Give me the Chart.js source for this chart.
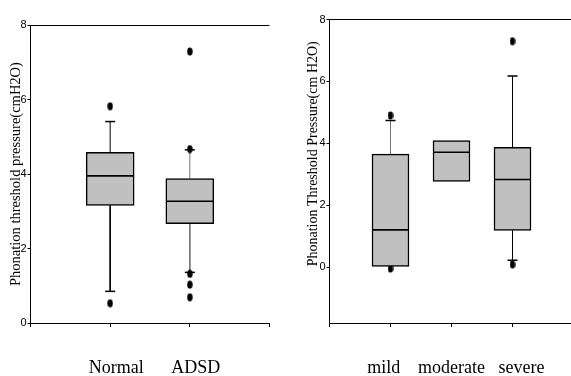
<!DOCTYPE html>
<html><head><meta charset="utf-8">
<script src="https://cdn.jsdelivr.net/npm/chart.js@4/dist/chart.umd.min.js"></script>
<style>
html,body{margin:0;padding:0;background:#fff;overflow:hidden;width:571px;height:376px;position:relative;}
#c1{position:absolute;left:0;top:0;}
#c2{position:absolute;left:290px;top:0;}
</style></head><body>
<canvas id="c1" width="300" height="376"></canvas>
<canvas id="c2" width="314" height="376"></canvas>
<script>
// ---- Left panel data ----
const groupsA = ['Normal', 'ADSD'];
const lowA  = [0.85, 1.36];
const q1A   = [3.16, 2.67];
const medA  = [3.95, 3.27];
const q3A   = [4.58, 3.88];
const highA = [5.41, 4.65];
const outA  = [[5.82, 0.53], [7.29, 4.67, 1.32, 1.03, 0.69]];
const yTicksA = [0, 2, 4, 6, 8];

// ---- Right panel data ----
const groupsB = ['mild', 'moderate', 'severe'];
const lowB  = [null, null, 0.22];
const q1B   = [0.00, 2.77, 1.18];
const medB  = [1.20, 3.71, 2.83];
const q3B   = [3.65, 4.09, 3.87];
const highB = [4.74, null, 6.18];
const outB  = [[4.90, -0.05], [], [7.30, 0.08]];
const yTicksB = [0, 2, 4, 6, 8];

// outlier marker (slightly tall ellipse)
function ellipseMarker() {
  const c = document.createElement('canvas');
  c.width = 6; c.height = 9;
  const g = c.getContext('2d');
  g.fillStyle = '#000';
  g.beginPath();
  g.ellipse(3, 4.5, 2.7, 4.0, 0, 0, Math.PI * 2);
  g.fill();
  return c;
}
const marker = ellipseMarker();

function buildChart(id, cfg) {
  const {groups, low, q1, med, q3, high, outs, yTicks, yMin, yMax,
         boxW, capR, title, titleSize, titlePad, yWidth, padTop, tickPad,
         labelOffset, labelShift, whiskerColors} = cfg;
  const labels = ['', ...groups, ''];
  const pad = arr => [null, ...arr, null];

  const datasets = [];
  // medians (drawn on top)
  datasets.push({
    type: 'line', showLine: false, order: -1,
    data: groups.map((g, i) => ({x: g, y: med[i]})),
    pointStyle: 'line', pointRadius: boxW / 2 - 0.5,
    pointBorderColor: '#000', pointBorderWidth: 1.6, pointBackgroundColor: '#000'
  });
  // boxes
  datasets.push({
    type: 'bar', order: 0, grouped: false,
    data: pad(groups.map((g, i) => [q1[i], q3[i]])),
    backgroundColor: '#c0c0c0', borderColor: '#000', borderWidth: 1.5,
    borderSkipped: false, barThickness: boxW
  });
  // outliers
  const pts = [];
  groups.forEach((g, i) => outs[i].forEach(v => pts.push({x: g, y: v})));
  datasets.push({
    type: 'line', showLine: false, order: 1, data: pts,
    pointStyle: marker, pointRadius: 4
  });
  // whiskers
  groups.forEach((g, i) => {
    const col = whiskerColors[i];
    if (high[i] !== null) datasets.push({
      type: 'line', order: 2,
      data: [{x: g, y: q3[i]}, {x: g, y: high[i]}],
      borderColor: col, borderWidth: 1,
      pointStyle: 'line', pointRadius: [0, capR],
      pointBorderColor: '#000', pointBorderWidth: 1.5
    });
    if (low[i] !== null) datasets.push({
      type: 'line', order: 2,
      data: [{x: g, y: q1[i]}, {x: g, y: low[i]}],
      borderColor: col, borderWidth: 1,
      pointStyle: 'line', pointRadius: [0, capR],
      pointBorderColor: '#000', pointBorderWidth: 1.5
    });
  });

  return new Chart(document.getElementById(id), {
    type: 'bar',
    data: {labels, datasets},
    options: {
      responsive: false, animation: false, devicePixelRatio: 1,
      layout: {padding: {top: padTop, right: 0, left: 0, bottom: 0}},
      plugins: {legend: {display: false}, tooltip: {enabled: false}},
      scales: {
        x: {
          type: 'category', offset: false,
          afterFit: s => { s.height = 53; },
          grid: {display: true, offset: false, drawOnChartArea: false, tickLength: 4, tickColor: '#000', color: '#000'},
          border: {display: true, color: '#000', width: 1},
          ticks: {
            autoSkip: false, maxRotation: 0, minRotation: 0, padding: tickPad, labelOffset: labelOffset,
            color: '#000', font: {family: 'Liberation Serif', size: 18},
            callback: function(v, i) {
              const t = this.getLabelForValue(v);
              const s = labelShift[i] || 0;
              return s > 0 ? ' '.repeat(s) + t : (s < 0 ? t + ' '.repeat(-s) : t);
            }
          }
        },
        y: {
          type: 'linear', min: yMin, max: yMax,
          afterFit: s => { s.width = yWidth; },
          afterBuildTicks: s => { s.ticks = yTicks.map(v => ({value: v})); },
          grid: {
            display: true, drawOnChartArea: true, tickLength: 3, tickColor: '#000',
            color: c => (c.tick && c.tick.value === yMax) ? '#000' : 'rgba(0,0,0,0)', lineWidth: 1
          },
          border: {display: true, color: '#000', width: 1},
          ticks: {color: '#000', padding: 1, font: {family: 'Liberation Sans', size: 11}},
          title: {
            display: true, text: title, color: '#000',
            font: {family: 'Liberation Serif', size: titleSize},
            padding: {top: titlePad, bottom: 0}
          }
        }
      }
    }
  });
}

buildChart('c1', {
  groups: groupsA, low: lowA, q1: q1A, med: medA, q3: q3A, high: highA, outs: outA,
  yTicks: yTicksA, yMin: 0, yMax: 8, boxW: 48, capR: 5,
  title: 'Phonation threshold pressure(cmH2O)', titleSize: 14.5, titlePad: 6,
  yWidth: 29.5, padTop: 15.5, tickPad: 30.5, labelOffset: 6, labelShift: [0, 0, 0, 0],
  whiskerColors: ['#000', '#777']
});

buildChart('c2', {
  groups: groupsB, low: lowB, q1: q1B, med: medB, q3: q3B, high: highB, outs: outB,
  yTicks: yTicksB, yMin: -1.81, yMax: 8, boxW: 37, capR: 5,
  title: '          Phonation Threshold Pressure(cm H2O)', titleSize: 14, titlePad: 14.5,
  yWidth: 39.5, padTop: 15.5, tickPad: 30.5, labelOffset: 0, labelShift: [0, -3, 0, 4, 0],
  whiskerColors: ['#777', '#000', '#000']
});
</script>
</body></html>
